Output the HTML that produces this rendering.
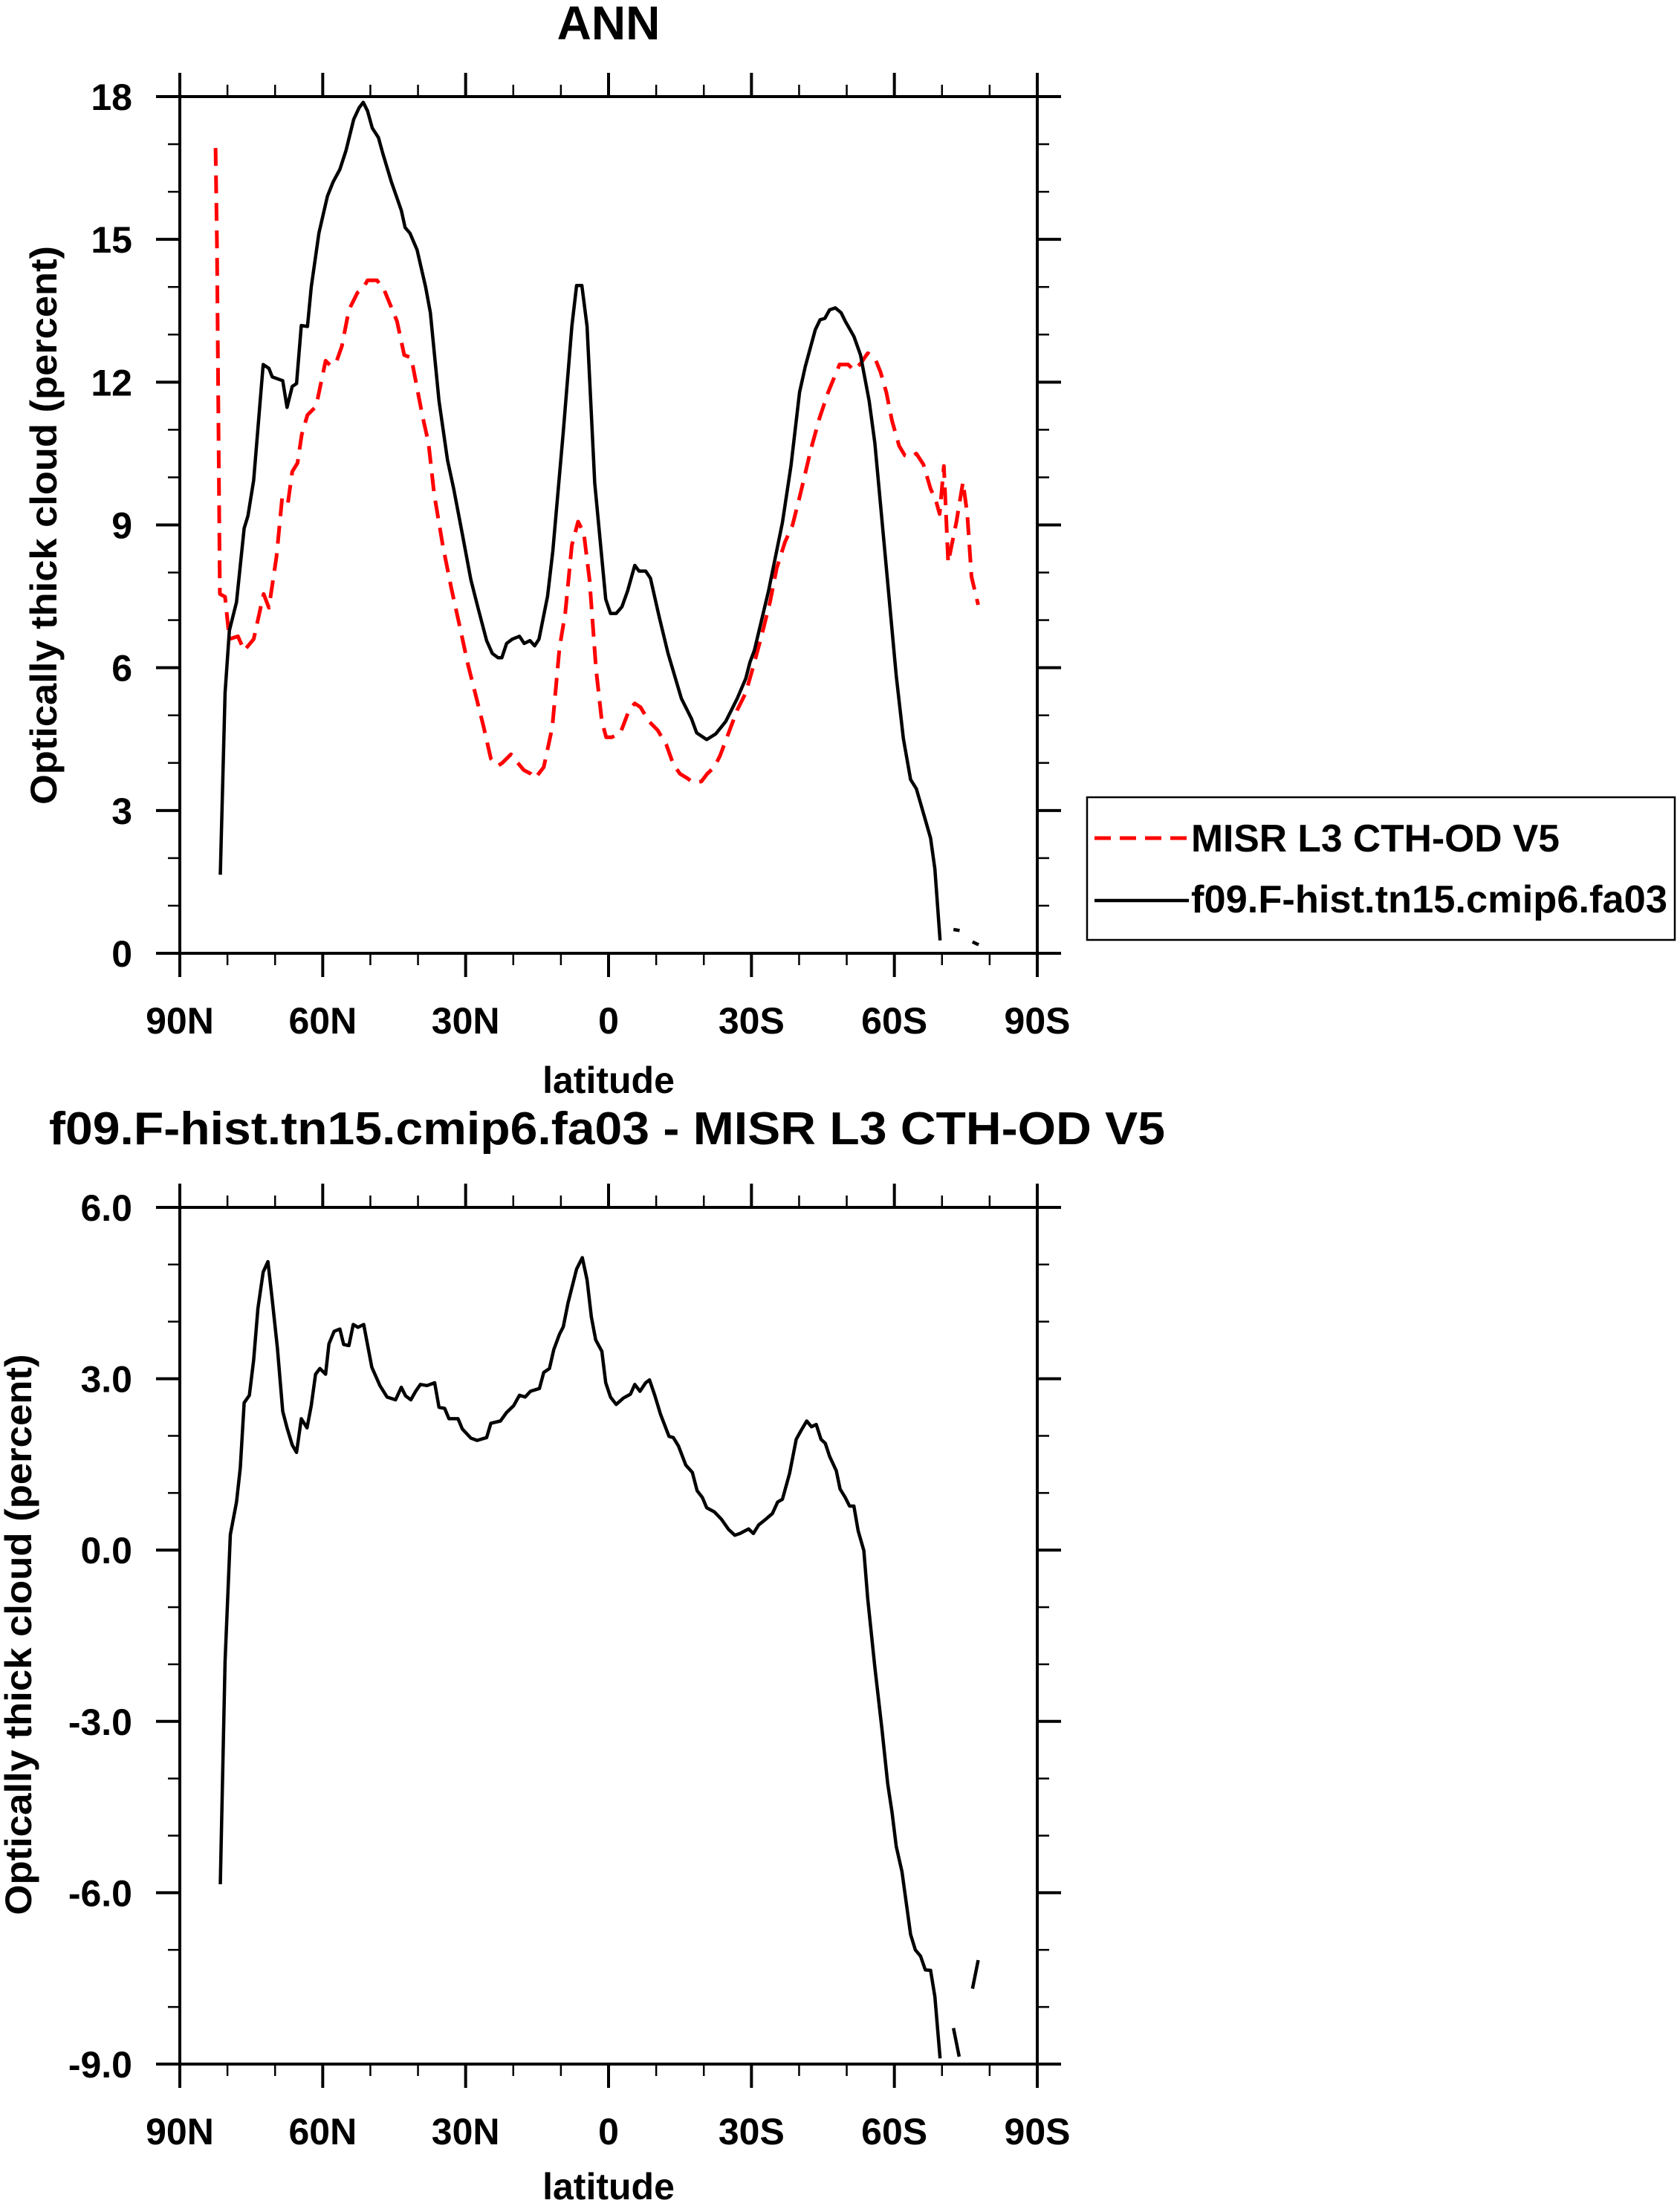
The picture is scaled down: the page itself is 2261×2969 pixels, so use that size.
<!DOCTYPE html>
<html><head><meta charset="utf-8"><style>
html,body{margin:0;padding:0;background:#fff}
svg{display:block}
text{font-family:"Liberation Sans",Arial,sans-serif;font-weight:bold;fill:#000}
</style></head><body>
<svg id="chart" width="2261" height="2969" viewBox="0 0 2261 2969" xmlns="http://www.w3.org/2000/svg">
<rect x="0" y="0" width="2261" height="2969" fill="#fff"/>
<text x="819" y="53" font-size="64" text-anchor="middle">ANN</text>
<text x="66" y="1540" font-size="62" textLength="1502" lengthAdjust="spacingAndGlyphs">f09.F-hist.tn15.cmip6.fa03 - MISR L3 CTH-OD V5</text>
<text transform="translate(76,707) rotate(-90)" font-size="50" text-anchor="middle" textLength="752" lengthAdjust="spacingAndGlyphs">Optically thick cloud (percent)</text>
<text transform="translate(42,2200) rotate(-90)" font-size="50" text-anchor="middle" textLength="755" lengthAdjust="spacingAndGlyphs">Optically thick cloud (percent)</text>
<text x="819" y="1471" font-size="50" text-anchor="middle">latitude</text>
<text x="819" y="2960" font-size="50" text-anchor="middle">latitude</text>
<g id="top-plot"></g>
<g id="bottom-plot"></g>
<g>
<rect x="1463" y="1073" width="791" height="192" fill="none" stroke="#000" stroke-width="2.5"/>
<line x1="1473" y1="1128" x2="1600" y2="1128" stroke="#f00" stroke-width="5" stroke-dasharray="22,12"/>
<text x="1603" y="1146" font-size="52" textLength="496" lengthAdjust="spacingAndGlyphs">MISR L3 CTH-OD V5</text>
<line x1="1473" y1="1212" x2="1600" y2="1212" stroke="#000" stroke-width="4.5"/>
<text x="1603" y="1228" font-size="52" textLength="641" lengthAdjust="spacingAndGlyphs">f09.F-hist.tn15.cmip6.fa03</text>
</g>
</svg>
<script>
// ---- data ----
const xTickLabels = ["90N","60N","30N","0","30S","60S","90S"];
const xTickLats = [90,60,30,0,-30,-60,-90];
const topYTicks = [0,3,6,9,12,15,18];
const topYTickLabels = ["0","3","6","9","12","15","18"];
const botYTicks = [-9,-6,-3,0,3,6];
const botYTickLabels = ["-9.0","-6.0","-3.0","0.0","3.0","6.0"];

const modelLat = [81.5,80.5,79.6,78.1,76.5,75.7,74.5,72.5,71.3,70.6,68.4,67.5,66.4,65.5,64.5,63.2,62.4,60.8,59.0,57.8,56.4,55.1,53.5,52.4,51.5,50.6,49.6,48.3,47.4,45.6,43.5,42.7,41.7,40.2,38.4,37.4,35.6,33.8,32.5,30.7,28.9,27.4,25.6,24.4,23.2,22.4,21.4,20.2,18.7,17.7,16.5,15.5,14.6,12.8,11.7,9.5,7.7,6.7,5.6,4.5,2.9,0.6,-0.4,-1.6,-2.8,-4.0,-5.5,-6.4,-7.8,-8.8,-10.6,-12.5,-15.3,-17.4,-18.5,-20.6,-22.5,-24.6,-27.0,-28.8,-29.7,-30.6,-33.6,-36.5,-38.3,-40.1,-41.3,-43.4,-44.4,-45.4,-46.4,-47.6,-48.8,-49.7,-51.5,-52.9,-54.7,-55.9,-58.0,-60.4,-61.9,-63.4,-64.6,-66.4,-67.6,-68.5,-69.6,-71.0,-72.4,-73.7,-75.0,-76.4,-77.7];
const modelVal = [1.65,5.47,6.78,7.38,8.93,9.19,9.94,12.37,12.29,12.11,12.03,11.47,11.91,11.97,13.19,13.17,14.0,15.13,15.91,16.21,16.47,16.87,17.52,17.76,17.88,17.7,17.34,17.14,16.81,16.21,15.61,15.25,15.13,14.78,14.0,13.46,11.61,10.36,9.76,8.81,7.85,7.26,6.57,6.30,6.21,6.21,6.51,6.6,6.66,6.51,6.57,6.46,6.6,7.5,8.45,10.96,13.17,14.03,14.03,13.17,9.88,7.44,7.14,7.14,7.28,7.61,8.15,8.03,8.03,7.88,7.08,6.30,5.35,4.93,4.63,4.49,4.61,4.87,5.35,5.77,6.12,6.36,7.62,9.05,10.24,11.79,12.33,13.10,13.31,13.34,13.52,13.56,13.46,13.28,12.96,12.57,11.61,10.72,8.45,5.83,4.51,3.65,3.46,2.84,2.42,1.77,0.27,null,0.5,0.48,null,0.24,0.18];

const obsLat = [82.5,82.2,81.6,80.5,79.6,77.8,76.5,74.5,72.4,71.3,69.7,68.5,67.3,66.4,65.3,64.4,63.2,61.4,59.4,58.4,57.2,56.0,54.5,52.7,51.5,50.6,48.6,47.1,44.4,42.9,41.4,40.6,39.1,37.8,36.6,34.8,33.0,31.3,29.5,27.7,26.2,24.7,23.2,22.3,20.5,19.3,17.8,16.3,15.4,13.6,11.8,10.3,9.1,7.7,6.4,5.2,4.0,2.6,1.4,0.5,-0.7,-2.5,-4.3,-5.5,-6.7,-8.5,-10.3,-12.1,-13.6,-15.0,-16.5,-17.7,-19.5,-20.7,-22.2,-23.4,-25.2,-27.0,-28.8,-30.3,-32.1,-33.9,-35.3,-37.0,-38.6,-40.1,-42.5,-44.3,-46.1,-48.5,-50.3,-51.5,-52.9,-54.4,-55.9,-57.1,-58.3,-59.5,-61.0,-62.2,-63.4,-64.6,-66.1,-67.6,-68.7,-69.5,-70.4,-71.3,-73.0,-74.4,-75.3,-76.2,-77.6];
const obsVal = [16.92,14.9,7.55,7.49,6.60,6.66,6.36,6.60,7.55,7.26,8.33,9.58,9.46,10.12,10.30,10.90,11.31,11.49,12.45,12.35,12.41,12.75,13.52,13.88,13.97,14.14,14.14,13.94,13.28,12.57,12.51,12.09,11.31,10.72,9.64,8.57,7.67,6.90,6.06,5.35,4.75,4.09,3.94,4.0,4.18,4.03,3.85,3.77,3.68,3.91,4.75,6.42,7.14,8.57,9.07,8.83,7.85,5.95,4.87,4.54,4.54,4.63,5.11,5.25,5.17,4.87,4.69,4.39,3.97,3.77,3.68,3.59,3.61,3.77,3.91,4.15,4.63,5.11,5.47,6.00,6.66,7.38,8.09,8.63,8.99,9.58,10.60,11.25,11.79,12.37,12.37,12.25,12.39,12.61,12.51,12.21,11.79,11.19,10.66,10.46,10.42,10.50,10.27,9.76,9.52,9.23,10.24,8.21,9.05,9.90,9.23,7.91,7.32];

const diffLat = [81.5,80.5,79.4,78.1,77.3,76.5,75.4,74.5,73.6,72.5,71.5,70.6,69.5,68.4,67.5,66.4,65.5,64.5,63.3,62.4,61.5,60.6,59.4,58.7,57.6,56.4,55.6,54.5,53.6,52.6,51.4,49.7,48.0,46.5,44.7,43.5,42.6,41.5,40.5,39.5,38.1,36.5,35.6,34.4,33.5,31.6,30.7,28.9,27.6,25.6,24.7,22.7,21.4,19.9,18.7,17.5,16.4,14.5,13.6,12.4,11.5,10.3,9.5,8.5,6.7,5.5,4.5,3.6,2.7,1.4,0.6,-0.4,-1.6,-3.1,-4.6,-5.5,-6.6,-7.8,-8.6,-9.7,-10.9,-12.7,-13.6,-14.7,-16.2,-17.6,-18.6,-19.7,-20.6,-22.2,-23.7,-25.2,-26.5,-27.6,-29.4,-30.4,-31.5,-33.0,-34.4,-35.5,-36.5,-38.0,-39.4,-40.4,-41.6,-42.6,-43.6,-44.6,-45.5,-46.4,-47.8,-48.6,-49.7,-50.6,-51.5,-52.4,-53.6,-54.4,-55.9,-57.4,-58.6,-59.5,-60.4,-61.6,-63.4,-64.4,-65.5,-66.5,-67.6,-68.5,-69.6,-71.0,-72.4,-73.6,-75.0,-76.4,-77.6];
const diffVal = [-5.85,-1.95,0.27,0.84,1.44,2.58,2.71,3.33,4.23,4.87,5.05,4.38,3.53,2.43,2.14,1.84,1.71,2.30,2.14,2.53,3.08,3.18,3.08,3.61,3.83,3.87,3.60,3.58,3.95,3.90,3.95,3.20,2.88,2.68,2.63,2.85,2.70,2.63,2.78,2.90,2.88,2.93,2.50,2.48,2.30,2.30,2.12,1.96,1.92,1.97,2.22,2.26,2.41,2.53,2.71,2.68,2.78,2.83,3.11,3.18,3.51,3.78,3.91,4.33,4.92,5.12,4.73,4.08,3.68,3.48,2.93,2.68,2.55,2.66,2.73,2.90,2.78,2.93,2.98,2.71,2.38,1.99,1.97,1.82,1.49,1.36,1.04,0.92,0.74,0.67,0.54,0.36,0.26,0.29,0.37,0.29,0.44,0.54,0.64,0.84,0.89,1.34,1.94,2.09,2.26,2.16,2.20,1.94,1.87,1.64,1.39,1.07,0.92,0.77,0.77,0.34,-0.01,-0.85,-2.05,-3.14,-4.09,-4.59,-5.19,-5.63,-6.73,-7.00,-7.11,-7.35,-7.36,-7.82,-8.90,null,-8.37,-8.87,null,-7.68,-7.18];

// ---- layout ----
const NS = "http://www.w3.org/2000/svg";
const X0 = 242, X1 = 1396;
function xScale(lat){ return X0 + (90 - lat) / 180 * (X1 - X0); }
function makeY(top, bottom, vmin, vmax){ return v => bottom - (v - vmin) / (vmax - vmin) * (bottom - top); }
const yTop = makeY(130, 1283, 0, 18);
const yBot = makeY(1625, 2778, -9, 6);

function el(tag, attrs, parent){
  const e = document.createElementNS(NS, tag);
  for (const k in attrs) e.setAttribute(k, attrs[k]);
  parent.appendChild(e);
  return e;
}

function drawAxes(g, top, bottom, yS, vmin, vmax, yTicks, yLabels, labelBaseline, prefix){
  const frame = el("rect", {x:X0, y:top, width:X1-X0, height:bottom-top, fill:"none", stroke:"#000", "stroke-width":4}, g);
  
  
  // x ticks (major every 30, minor every 10)
  for (let lat = 90; lat >= -90; lat -= 10){
    const major = lat % 30 === 0;
    const len = major ? 32 : 16;
    const x = xScale(lat);
    const w = major ? 4 : 2.5;
    const t1 = el("line", {x1:x, y1:bottom, x2:x, y2:bottom+len, stroke:"#000", "stroke-width":w}, g);
    
    
    const t2 = el("line", {x1:x, y1:top, x2:x, y2:top-len, stroke:"#000", "stroke-width":w}, g);
    
    
  }
  xTickLats.forEach((lat, i) => {
    const t = el("text", {x:xScale(lat), y:labelBaseline, "font-size":50, "text-anchor":"middle"}, g);
    t.textContent = xTickLabels[i];
    
    
  });
  // y ticks: minor every 1 unit
  for (let v = vmin; v <= vmax + 1e-9; v += 1){
    const major = yTicks.some(t => Math.abs(t - v) < 1e-9);
    const len = major ? 32 : 16;
    const y = yS(v);
    const w = major ? 4 : 2.5;
    const a = el("line", {x1:X0, y1:y, x2:X0-len, y2:y, stroke:"#000", "stroke-width":w}, g);
    
    
    const b = el("line", {x1:X1, y1:y, x2:X1+len, y2:y, stroke:"#000", "stroke-width":w}, g);
    
    
  }
  yTicks.forEach((v, i) => {
    const t = el("text", {x:178, y:yS(v)+18, "font-size":50, "text-anchor":"end"}, g);
    t.textContent = yLabels[i];
    
    
  });
}

function linePath(lats, vals, yS){
  let d = "", pen = false;
  for (let i = 0; i < lats.length; i++){
    const v = vals[i];
    if (v === null || v === undefined){ pen = false; continue; }
    d += (pen ? "L" : "M") + xScale(lats[i]).toFixed(1) + "," + yS(v).toFixed(1);
    pen = true;
  }
  return d;
}

const gTop = document.getElementById("top-plot");
const gBot = document.getElementById("bottom-plot");
drawAxes(gTop, 130, 1283, yTop, 0, 18, topYTicks, topYTickLabels, 1391, "top");
drawAxes(gBot, 1625, 2778, yBot, -9, 6, botYTicks, botYTickLabels, 2886, "bottom");

const clipDef = el("defs", {}, document.getElementById("chart"));
const cp = el("clipPath", {id:"botclip"}, clipDef);
el("rect", {x:X0, y:1625, width:X1-X0, height:2778-1625}, cp);

const obsLine = el("path", {d:linePath(obsLat, obsVal, yTop), fill:"none", stroke:"#f00", "stroke-width":5, "stroke-dasharray":"24,13", "stroke-linejoin":"round"}, gTop);


const modelLine = el("path", {d:linePath(modelLat, modelVal, yTop), fill:"none", stroke:"#000", "stroke-width":4.5, "stroke-linejoin":"round"}, gTop);


const diffLine = el("path", {d:linePath(diffLat, diffVal, yBot), fill:"none", stroke:"#000", "stroke-width":4.5, "stroke-linejoin":"round", "clip-path":"url(#botclip)"}, gBot);


</script>
</body></html>
